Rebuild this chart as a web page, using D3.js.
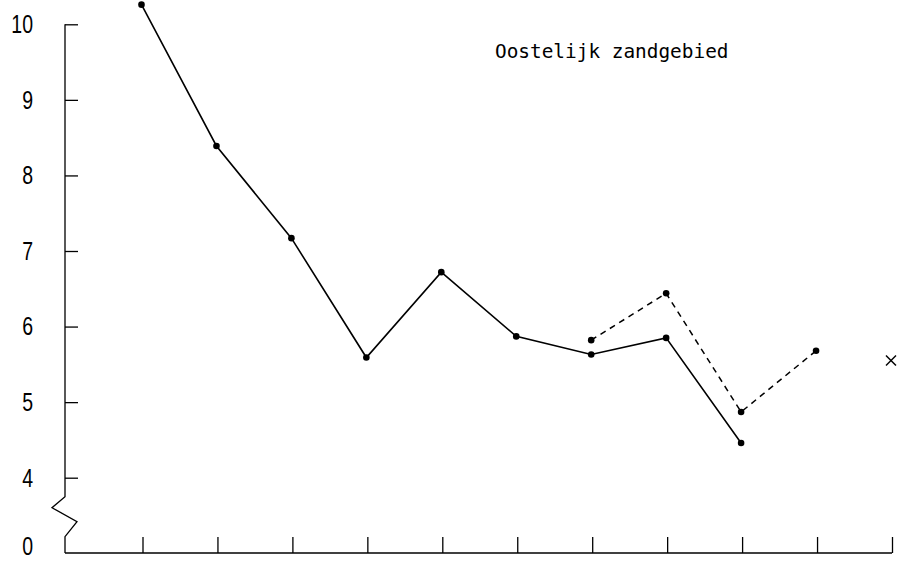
<!DOCTYPE html>
<html>
<head>
<meta charset="utf-8">
<script src="https://cdn.jsdelivr.net/npm/d3@7"></script>
<style>
  html, body { margin: 0; padding: 0; background: #fff; }
  svg { display: block; }
</style>
</head>
<body>
<svg id="chart"></svg>
<script>
// periods along the x axis (ticks only, no labels)
const periods = [1, 2, 3, 4, 5, 6, 7, 8, 9, 10, 11]
// solid series
const solidPeriods = [1, 2, 3, 4, 5, 6, 7, 8, 9]
const solidValues = [10.26, 8.39, 7.17, 5.59, 6.72, 5.87, 5.63, 5.85, 4.46]
// dashed series
const dashedPeriods = [7, 8, 9, 10]
const dashedValues = [5.82, 6.44, 4.87, 5.68]
// single cross marker
const crossPeriod = 11
const crossValue = 5.55
// y tick labels
const yTicks = [4, 5, 6, 7, 8, 9, 10]
const title = "Oostelijk zandgebied"

const width = 897, height = 563
const marginLeft = 65, axisBottomY = 553
const labelRight = 33       // right edge of the y labels
const squeeze = 0.75        // narrow digits like the typewriter original

const x = d3.scaleLinear()
  .domain([1, 11])
  .range([141.5, 891])
const y = d3.scaleLinear()
  .domain([4, 10])
  .range([477.7, 24.3])

const svg = d3.select("#chart")
  .attr("width", width)
  .attr("height", height)
  .attr("viewBox", `0 0 ${width} ${height}`)

const labelFont = "26px 'Liberation Sans', Arial, sans-serif"

// left axis with inward ticks
svg.append("g")
    .attr("transform", `translate(${marginLeft},0)`)
    .call(d3.axisLeft(y).tickValues(yTicks).tickFormat(d3.format("d"))
      .tickSizeInner(-13).tickSizeOuter(0))
    .call(g => g.select(".domain").remove())
    .call(g => g.selectAll(".tick line").attr("stroke", "#000").attr("stroke-width", 1.3))
    .call(g => g.selectAll(".tick text")
      .attr("fill", "#000")
      .attr("x", -(marginLeft - labelRight) / squeeze)
      .attr("transform", `scale(${squeeze},1)`)
      .style("font", labelFont))

// axis line with break down to zero
svg.append("path")
    .attr("fill", "none")
    .attr("stroke", "#000")
    .attr("stroke-width", 1.3)
    .attr("d", `M${marginLeft},${y(10)}V${y(4) + 19}L${marginLeft - 13},${y(4) + 30}L${marginLeft + 12},${y(4) + 44}L${marginLeft},${y(4) + 59}V${axisBottomY}`)

svg.append("text")
    .attr("transform", `scale(${squeeze},1)`)
    .attr("x", labelRight / squeeze)
    .attr("y", axisBottomY - 6)
    .attr("dy", "0.32em")
    .attr("text-anchor", "end")
    .style("font", labelFont)
    .text("0")

// bottom axis, ticks upward, no labels
svg.append("g")
    .attr("transform", `translate(0,${axisBottomY})`)
    .call(d3.axisBottom(x).tickValues(periods).tickSizeInner(-16).tickSizeOuter(0).tickFormat(""))
    .call(g => g.select(".domain").remove())
    .call(g => g.selectAll(".tick line").attr("stroke", "#000").attr("stroke-width", 1.3))
    .call(g => g.selectAll(".tick").attr("transform", d => `translate(${x(d) + 1.5},0)`))

svg.append("line")
    .attr("x1", marginLeft)
    .attr("x2", x(11) + 1)
    .attr("y1", axisBottomY)
    .attr("y2", axisBottomY)
    .attr("stroke", "#000")
    .attr("stroke-width", 1.5)

const solid = solidPeriods.map((p, i) => ({ p, v: solidValues[i] }))
const dashed = dashedPeriods.map((p, i) => ({ p, v: dashedValues[i] }))

const line = d3.line()
  .x(d => x(d.p))
  .y(d => y(d.v))

svg.append("path")
    .datum(solid)
    .attr("fill", "none")
    .attr("stroke", "#000")
    .attr("stroke-width", 1.6)
    .attr("d", line)

svg.append("path")
    .datum(dashed)
    .attr("fill", "none")
    .attr("stroke", "#000")
    .attr("stroke-width", 1.5)
    .attr("stroke-dasharray", "6,5")
    .attr("d", line)

svg.append("g")
    .attr("fill", "#000")
  .selectAll("circle")
  .data(solid.concat(dashed))
  .join("circle")
    .attr("cx", d => x(d.p))
    .attr("cy", d => y(d.v))
    .attr("r", 3.3)

// cross marker
svg.append("g")
    .attr("transform", `translate(${x(crossPeriod)},${y(crossValue)})`)
    .attr("stroke", "#000")
    .attr("stroke-width", 1.5)
  .selectAll("line")
  .data([[-5, -5, 5, 5], [-5, 5, 5, -5]])
  .join("line")
    .attr("x1", d => d[0]).attr("y1", d => d[1])
    .attr("x2", d => d[2]).attr("y2", d => d[3])

svg.append("text")
    .attr("x", 495)
    .attr("y", 58)
    .style("font", "19.4px 'DejaVu Sans Mono', monospace")
    .attr("fill", "#000")
    .text(title)
</script>
</body>
</html>
